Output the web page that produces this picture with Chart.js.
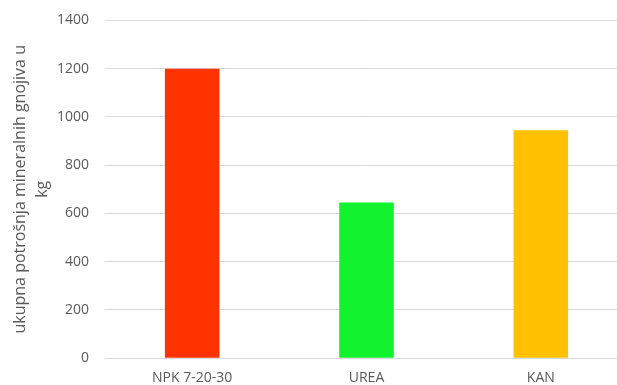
<!DOCTYPE html>
<html>
<head>
<meta charset="utf-8">
<script src="https://cdn.jsdelivr.net/npm/chart.js@4"></script>
<style>
  html, body { margin: 0; padding: 0; background: #fff; overflow: hidden; width: 617px; height: 385px; }
  #wrap { width: 628px; height: 392px; margin-top: -4px; }
</style>
</head>
<body>
<div id="wrap"><canvas id="chart"></canvas></div>
<script>
// Chart data
const categories = ['NPK 7-20-30', 'UREA', 'KAN'];
const values = [1200, 645, 945];
const barColors = ['#FF3300', '#12F22E', '#FFC000'];
const yTicks = [0, 200, 400, 600, 800, 1000, 1200, 1400];

const textColor = '#595959';
const fontFamily = '"Open Sans", "Liberation Sans", sans-serif';

new Chart(document.getElementById('chart'), {
    type: 'bar',
    data: {
        labels: categories,
        datasets: [{
            data: values,
            backgroundColor: barColors,
            borderWidth: 0,
            barPercentage: 0.626,
            categoryPercentage: 0.5
        }]
    },
    options: {
        responsive: true,
        maintainAspectRatio: false,
        animation: false,
        layout: { padding: { top: -4, right: 0, bottom: -9, left: 9 } },
        plugins: {
            legend: { display: false },
            tooltip: { enabled: false }
        },
        scales: {
            x: {
                grid: { display: false, drawTicks: false },
                border: { color: '#D9D9D9', width: 1 },
                ticks: { color: textColor, font: { family: fontFamily, size: 14 }, padding: 11 }
            },
            y: {
                min: 0,
                max: 1400,
                afterBuildTicks: function(axis) {
                    axis.ticks = yTicks.map(v => ({ value: v }));
                },
                afterFit: function(axis) {
                    axis.width = 96;
                },
                grid: { color: '#D9D9D9', lineWidth: 1, drawTicks: false },
                border: { display: false },
                ticks: {
                    color: textColor,
                    font: { family: fontFamily, size: 14 },
                    padding: 16,
                    callback: function(v) { return String(v); }
                },
                title: {
                    display: true,
                    text: ['ukupna potrošnja mineralnih gnojiva u', 'kg'],
                    color: textColor,
                    font: { family: fontFamily, size: 16, lineHeight: 1.4 },
                    padding: 0
                }
            }
        }
    }
});
</script>
</body>
</html>
